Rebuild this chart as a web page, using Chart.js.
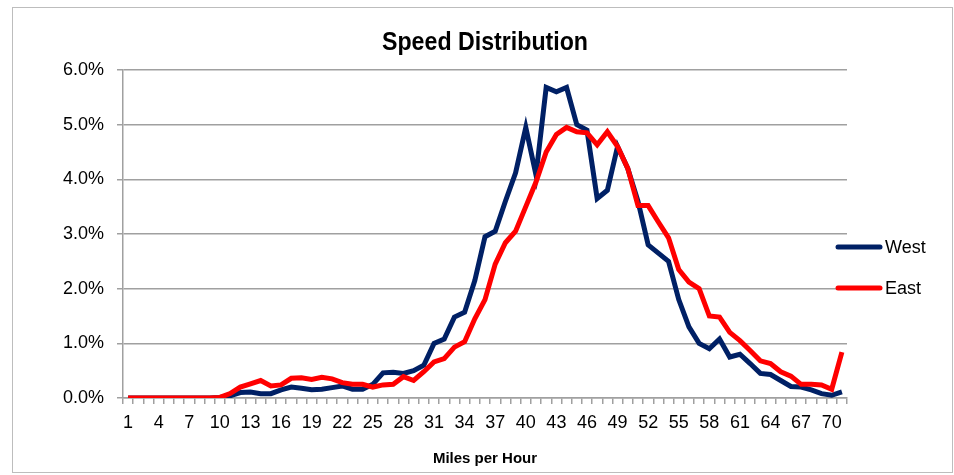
<!DOCTYPE html>
<html>
<head>
<meta charset="utf-8">
<script src="https://cdn.jsdelivr.net/npm/chart.js@4/dist/chart.umd.min.js"></script>
<style>
  html, body { margin: 0; padding: 0; background: #fff; }
  .wrap { position: relative; width: 954px; height: 475px; }
  .frame { position: absolute; left: 12px; top: 7px; width: 939px; height: 464px; border: 1px solid #bdbdbd; pointer-events: none; }
</style>
</head>
<body>
<div class="wrap">
  <canvas id="speed-chart" width="954" height="475"></canvas>
  <div class="frame"></div>
</div>
<script>
// Speed distribution, share of vehicles per mph bin (%)
const mph = [
  '1','2','3','4','5','6','7','8','9','10',
  '11','12','13','14','15','16','17','18','19','20',
  '21','22','23','24','25','26','27','28','29','30',
  '31','32','33','34','35','36','37','38','39','40',
  '41','42','43','44','45','46','47','48','49','50',
  '51','52','53','54','55','56','57','58','59','60',
  '61','62','63','64','65','66','67','68','69','70','71'
];
const xTickLabels = ['1','4','7','10','13','16','19','22','25','28','31','34','37','40','43','46','49','52','55','58','61','64','67','70'];
const yTicks = [0, 1, 2, 3, 4, 5, 6];

const west = [
  0, 0, 0, 0, 0, 0, 0, 0, 0, 0.01,
  0.04, 0.10, 0.11, 0.08, 0.08, 0.15, 0.20, 0.18, 0.15, 0.16,
  0.19, 0.22, 0.16, 0.16, 0.25, 0.46, 0.47, 0.45, 0.50, 0.60,
  1.00, 1.08, 1.48, 1.57, 2.15, 2.95, 3.05, 3.60, 4.12, 4.95,
  4.08, 5.68, 5.60, 5.68, 5.00, 4.90, 3.65, 3.80, 4.60, 4.20,
  3.60, 2.80, 2.65, 2.50, 1.80, 1.30, 1.00, 0.90, 1.08, 0.75,
  0.80, 0.63, 0.45, 0.43, 0.32, 0.21, 0.20, 0.15, 0.08, 0.05, 0.11
];
const east = [
  0, 0, 0, 0, 0, 0, 0, 0, 0, 0.01,
  0.08, 0.20, 0.26, 0.32, 0.22, 0.24, 0.36, 0.37, 0.34, 0.38,
  0.35, 0.28, 0.25, 0.25, 0.20, 0.24, 0.25, 0.39, 0.32, 0.48,
  0.66, 0.72, 0.93, 1.03, 1.45, 1.80, 2.45, 2.84, 3.05, 3.50,
  3.95, 4.50, 4.82, 4.95, 4.87, 4.85, 4.63, 4.87, 4.60, 4.20,
  3.52, 3.52, 3.22, 2.93, 2.35, 2.12, 2.00, 1.50, 1.48, 1.20,
  1.05, 0.87, 0.68, 0.63, 0.48, 0.40, 0.25, 0.25, 0.24, 0.16, 0.84
];

const WEST_COLOR = '#002065';
const EAST_COLOR = '#ff0000';
const GRID = '#a0a0a0';
const FONT = "'Liberation Sans', Arial, sans-serif";

// title + legend drawn by hand, Excel style
const excelDecor = {
  id: 'excelDecor',
  afterDraw(chart) {
    const { ctx, chartArea } = chart;
    ctx.save();
    // condensed bold title, squeezed to the reference width
    ctx.fillStyle = '#000';
    ctx.font = `bold 25px ${FONT}`;
    ctx.textAlign = 'center';
    ctx.textBaseline = 'middle';
    const text = 'Speed Distribution';
    const sx = 206 / ctx.measureText(text).width;
    ctx.translate((chartArea.left + chartArea.right) / 2, 43);
    ctx.scale(sx, 1);
    ctx.fillText(text, 0, 0);
    ctx.restore();

    ctx.save();
    const items = [...chart.data.datasets].sort((a, b) => a.legendIndex - b.legendIndex);
    items.forEach((ds, i) => {
      const y = 247 + i * 41;
      ctx.strokeStyle = ds.borderColor;
      ctx.lineWidth = 5;
      ctx.lineCap = 'round';
      ctx.beginPath();
      ctx.moveTo(838, y);
      ctx.lineTo(880, y);
      ctx.stroke();
      ctx.fillStyle = '#000';
      ctx.font = `18px ${FONT}`;
      ctx.textAlign = 'left';
      ctx.textBaseline = 'middle';
      ctx.fillText(ds.label, 885, y + 1);
    });
    ctx.restore();
  }
};

const chart = new Chart(document.getElementById('speed-chart'), {
  type: 'line',
  data: {
    labels: mph,
    datasets: [
      { label: 'East', data: east, borderColor: EAST_COLOR, backgroundColor: EAST_COLOR, borderWidth: 5, pointRadius: 0, tension: 0, legendIndex: 1 },
      { label: 'West', data: west, borderColor: WEST_COLOR, backgroundColor: WEST_COLOR, borderWidth: 5, pointRadius: 0, tension: 0, legendIndex: 0 }
    ]
  },
  options: {
    responsive: false,
    animation: false,
    layout: { padding: { top: 70, right: 107, left: 0, bottom: 0 } },
    plugins: {
      legend: { display: false },
      title: { display: false },
      tooltip: { enabled: false }
    },
    scales: {
      x: {
        offset: true,
        afterFit: s => { s.height = 77; },
        grid: { display: true, offset: true, drawOnChartArea: false, drawTicks: true, tickLength: 6, color: GRID, lineWidth: 1.5 },
        border: { display: true, color: GRID, width: 1.5 },
        ticks: {
          autoSkip: false, maxRotation: 0, padding: 8,
          color: '#000', font: { family: FONT, size: 18 },
          callback: (v, i) => xTickLabels.includes(mph[i]) ? mph[i] : ''
        },
        title: {
          display: true, text: 'Miles per Hour', color: '#000',
          font: { family: FONT, size: 15, weight: 'bold' },
          padding: { top: 0, bottom: 7 }
        }
      },
      y: {
        min: 0, max: 6,
        afterFit: s => { s.width = 123; },
        afterBuildTicks: s => { s.ticks = yTicks.map(v => ({ value: v })); },
        grid: { color: GRID, lineWidth: 1.5, tickLength: 6 },
        border: { display: true, color: GRID, width: 1.5 },
        ticks: {
          padding: 13, color: '#000', font: { family: FONT, size: 18 },
          callback: v => Number(v).toFixed(1) + '%'
        }
      }
    }
  },
  plugins: [excelDecor]
});
</script>
</body>
</html>
